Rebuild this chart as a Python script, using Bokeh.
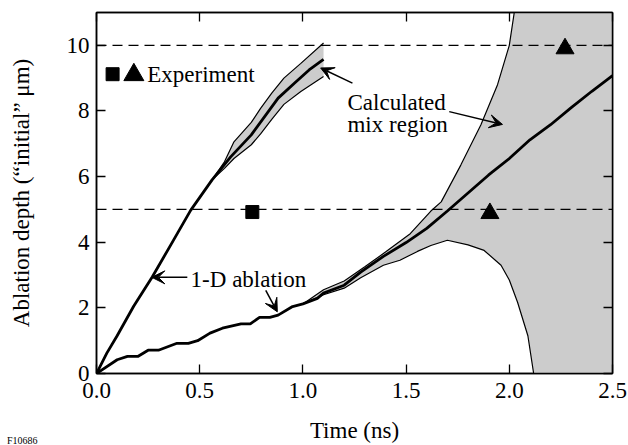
from bokeh.plotting import figure
from bokeh.models import (Range1d, LinearAxis, FixedTicker, Span, Label, Arrow,
                          VeeHead, CustomJSTickFormatter, PrintfTickFormatter, Div)
from bokeh.layouts import column
from bokeh.embed import file_html
from bokeh.resources import INLINE

# ---------------- data ----------------
x_ticks = [0.0, 0.5, 1.0, 1.5, 2.0, 2.5]
y_ticks = [0, 2, 4, 6, 8, 10]

# fast 1-D ablation trajectory (thick line)
t_fast = [0.0, 0.05, 0.1, 0.18, 0.27, 0.36, 0.456, 0.56, 0.65, 0.75, 0.88, 0.96, 1.03, 1.1]
d_fast = [0.0, 0.62, 1.15, 2.05, 2.94, 3.92, 4.97, 5.9, 6.6, 7.27, 8.39, 8.85, 9.25, 9.57]

# calculated mix band around the fast trajectory
t_band1 = [0.56, 0.62, 0.666, 0.75, 0.795, 0.85, 0.908, 0.99, 1.1]
band1_top = [5.9, 6.45, 7.06, 7.65, 8.08, 8.55, 9.0, 9.45, 10.07]
band1_bot = [5.9, 6.25, 6.55, 6.97, 7.3, 7.75, 8.2, 8.59, 9.05]

# slow 1-D ablation trajectory (thick line)
t_slow = [0.0, 0.1, 0.15, 0.2, 0.25, 0.3, 0.39, 0.445, 0.49, 0.55, 0.61, 0.7, 0.745,
          0.79, 0.84, 0.88, 0.95, 1.0, 1.07, 1.1, 1.2, 1.28, 1.39, 1.5, 1.6, 1.7,
          1.8, 1.9, 2.0, 2.1, 2.2, 2.3, 2.4, 2.5]
d_slow = [0.0, 0.42, 0.52, 0.52, 0.71, 0.71, 0.92, 0.92, 1.0, 1.23, 1.38, 1.51, 1.51,
          1.71, 1.71, 1.78, 2.04, 2.12, 2.29, 2.45, 2.69, 3.09, 3.57, 3.99, 4.42, 4.95,
          5.5, 6.05, 6.55, 7.12, 7.58, 8.1, 8.6, 9.08]

# calculated mix region around the slow trajectory
t_mix_top = [1.0, 1.1, 1.2, 1.3, 1.4, 1.52, 1.62, 1.67, 1.765, 1.862, 1.943, 2.0, 2.024, 2.04, 2.5]
mix_top = [2.12, 2.55, 2.82, 3.25, 3.7, 4.26, 4.95, 5.23, 6.35, 7.57, 8.8, 10.0, 11.0, 11.5, 11.5]
t_mix_bot = [1.0, 1.1, 1.2, 1.28, 1.39, 1.47, 1.555, 1.62, 1.70, 1.80, 1.878, 1.96, 2.0,
             2.04, 2.09, 2.118, 2.5]
mix_bot = [2.12, 2.4, 2.6, 2.92, 3.3, 3.45, 3.72, 3.9, 4.06, 3.92, 3.75, 3.3, 2.85,
           2.17, 1.15, 0.0, 0.0]

# experiment
exp_sq_t = [0.755]
exp_sq_d = [4.92]
exp_tri_t = [1.906, 2.27]
exp_tri_d = [4.88, 9.9]
ref_levels = [5, 10]

FONT = "Liberation Serif"
FS = "23px"
GREY = "#cccccc"

p = figure(width=628, height=445, x_range=Range1d(0, 2.5), y_range=Range1d(0, 11),
           output_backend="svg", toolbar_location=None,
           min_border_left=96, min_border_right=16, min_border_top=12, min_border_bottom=10,
           x_axis_label="Time (ns)", y_axis_label="Ablation depth (\u201cinitial\u201d \u03bcm)")
p.xgrid.visible = False
p.ygrid.visible = False
p.outline_line_color = "black"
p.outline_line_width = 1.5
p.background_fill_color = "white"

# bands
p.patch(x=t_band1 + t_band1[::-1], y=band1_top + band1_bot[::-1],
        fill_color=GREY, line_color=None)
p.patch(x=t_mix_top + t_mix_bot[::-1], y=mix_top + mix_bot[::-1],
        fill_color=GREY, line_color=None)
p.line(t_band1, band1_top, line_color="black", line_width=1.2)
p.line(t_band1, band1_bot, line_color="black", line_width=1.2)
p.line(t_mix_top, mix_top, line_color="black", line_width=1.2)
p.line(t_mix_bot[:-1], mix_bot[:-1], line_color="black", line_width=1.2)

# trajectories
p.line(t_fast, d_fast, line_color="black", line_width=2.8)
p.line(t_slow, d_slow, line_color="black", line_width=2.8)

# reference dashed lines
for lv in ref_levels:
    p.add_layout(Span(location=lv, dimension="width", line_color="black",
                      line_width=1.3, line_dash="10 6"))

# experiment markers
p.scatter(exp_sq_t, exp_sq_d, marker="square", size=13, color="black")
p.scatter(exp_tri_t, exp_tri_d, marker="triangle", size=18, color="black")

# legend-ish key
p.scatter([0.078], [9.12], marker="square", size=13, color="black")
p.scatter([0.181], [9.1], marker="triangle", size=20, color="black")

def lab(x, y, t, fs=FS):
    p.add_layout(Label(x=x, y=y, text=t, text_font=FONT, text_font_size=fs,
                       text_color="black", text_baseline="alphabetic"))

lab(0.246, 9.11, "Experiment")
lab(1.216, 8.25, "Calculated")
lab(1.216, 7.58, "mix region")
lab(0.456, 2.86, "1-D ablation")

def arr(x0, y0, x1, y1):
    p.add_layout(Arrow(end=VeeHead(size=13, fill_color="black", line_color="black", line_width=1),
                       x_start=x0, y_start=y0, x_end=x1, y_end=y1,
                       line_color="black", line_width=1.5))

arr(0.44, 2.93, 0.268, 2.93)
arr(0.82, 2.53, 0.876, 1.88)
arr(1.24, 8.85, 1.086, 9.31)
arr(1.709, 7.98, 1.967, 7.59)

# main axes
for ax, ticks in ((p.xaxis[0], x_ticks), (p.yaxis[0], y_ticks)):
    ax.ticker = FixedTicker(ticks=ticks)
    ax.major_tick_in = 9
    ax.major_tick_out = 0
    ax.minor_tick_line_color = None
    ax.axis_line_width = 1.5
    ax.major_tick_line_width = 1.3
    ax.major_label_text_font = FONT
    ax.major_label_text_font_size = FS
    ax.major_label_text_color = "black"
    ax.axis_label_text_font = FONT
    ax.axis_label_text_font_size = FS
    ax.axis_label_text_font_style = "normal"
    ax.axis_label_text_color = "black"
p.xaxis[0].formatter = PrintfTickFormatter(format="%.1f")
p.xaxis[0].major_label_standoff = 9
p.xaxis[0].axis_label_standoff = 17
p.yaxis[0].major_label_standoff = 7
p.yaxis[0].axis_label_standoff = 30

# mirrored axes (ticks only)
for loc, ticks in (("above", x_ticks), ("right", y_ticks)):
    ax = LinearAxis(ticker=FixedTicker(ticks=ticks),
                    formatter=CustomJSTickFormatter(code="return ''"),
                    major_tick_in=9, major_tick_out=0, minor_tick_line_color=None,
                    major_label_text_font_size="1px", major_label_standoff=0,
                    axis_line_width=1.5, major_tick_line_width=1.3)
    p.add_layout(ax, loc)

fig_id = Div(text="F10686", width=60, height=9, margin=(-9, 0, 0, 7),
             styles={"font-family": "Liberation Serif", "font-size": "10px",
                     "line-height": "9px", "color": "black"})

layout = column(p, fig_id, spacing=0)
open("out.html", "w").write(file_html(layout, INLINE))
